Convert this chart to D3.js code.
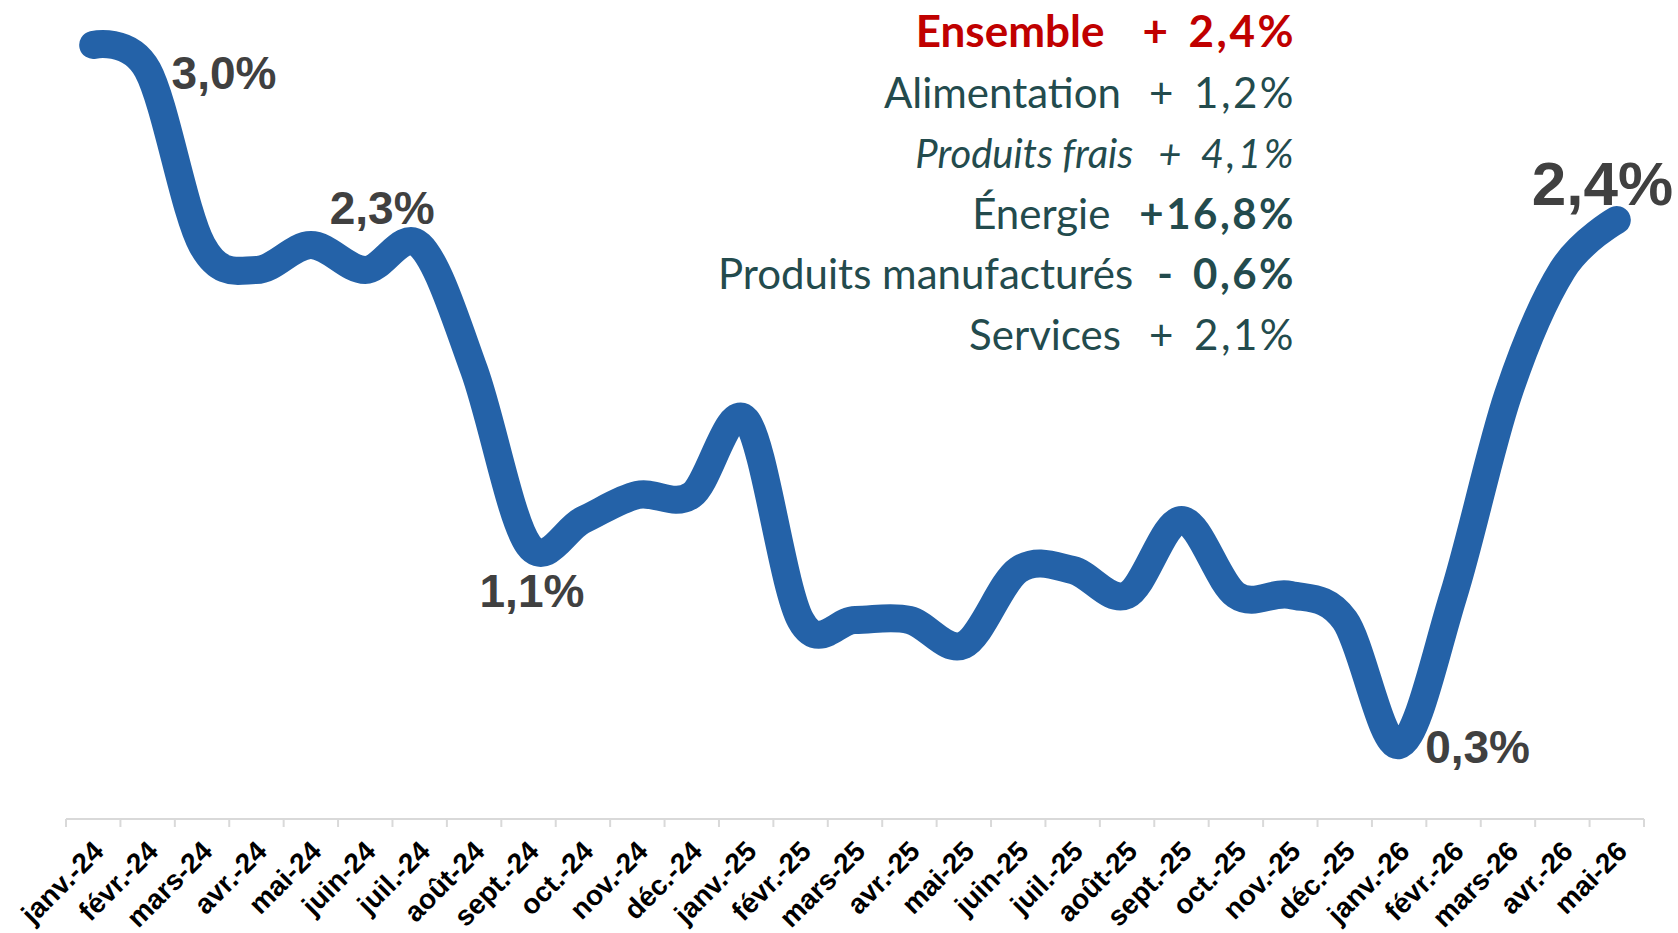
<!DOCTYPE html>
<html>
<head>
<meta charset="utf-8">
<script src="https://cdn.jsdelivr.net/npm/d3@7"></script>
<style>
  body { margin: 0; background: #fff; }
  svg { display: block; }
</style>
</head>
<body>
<div id="chart"></div>
<script>
// data
var months = ["janv.-24", "févr.-24", "mars-24", "avr.-24", "mai-24", "juin-24", "juil.-24",
  "août-24", "sept.-24", "oct.-24", "nov.-24", "déc.-24", "janv.-25", "févr.-25", "mars-25",
  "avr.-25", "mai-25", "juin-25", "juil.-25", "août-25", "sept.-25", "oct.-25", "nov.-25",
  "déc.-25", "janv.-26", "févr.-26", "mars-26", "avr.-26", "mai-26"];
var values = [3.1, 3.0, 2.3, 2.2, 2.3, 2.2, 2.3, 1.8, 1.1, 1.2, 1.3, 1.3, 1.6, 0.8, 0.8,
  0.8, 0.7, 1.0, 1.0, 0.9, 1.2, 0.9, 0.9, 0.8, 0.3, 0.9, 1.7, 2.2, 2.4];
var labelledMonths = ["févr.-24", "juil.-24", "sept.-24", "janv.-26", "mai-26"];

var legendLabels = ["Ensemble", "Alimentation", "Produits frais", "Énergie", "Produits manufacturés", "Services"];
var legendValues = ["+ 2,4%", "+ 1,2%", "+ 4,1%", "+16,8%", "- 0,6%", "+ 2,1%"];

var width = 1678, height = 933;
var margin = {top: 20, left: 66, right: 34, bottom: 113};

var lineColor = "#2462a8";
var textGrey = "#404040";
var legendColor = "#234b4d";

var svg = d3.select("#chart").append("svg")
  .attr("width", width)
  .attr("height", height);

var x = d3.scaleBand()
  .domain(months)
  .range([margin.left, width - margin.right])
  .padding(0);

var y = d3.scaleLinear()
  .domain([0, 3.2])
  .range([height - margin.bottom, margin.top]);

var data = months.map(function(m, i) { return {m: m, v: values[i]}; });
var cx = function(d) { return x(d.m) + x.bandwidth() / 2; };

// axis line + boundary ticks
var axisY = y(0) - 1;
var axisG = svg.append("g").attr("class", "x axis");
axisG.append("line")
  .attr("x1", x.range()[0]).attr("x2", x.range()[1])
  .attr("y1", axisY).attr("y2", axisY)
  .attr("stroke", "#d9d9d9").attr("stroke-width", 2);
var bounds = months.map(function(m) { return x(m); }).concat([x.range()[1]]);
axisG.selectAll(".tick-line")
  .data(bounds)
  .enter().append("line")
  .attr("class", "tick-line")
  .attr("x1", function(d) { return d; }).attr("x2", function(d) { return d; })
  .attr("y1", axisY).attr("y2", axisY + 8)
  .attr("stroke", "#d9d9d9").attr("stroke-width", 2);

axisG.selectAll(".tick-label")
  .data(months)
  .enter().append("text")
  .attr("class", "tick-label")
  .attr("transform", function(d) {
    return "translate(" + (x(d) + x.bandwidth() / 2 - 2) + "," + (axisY + 20) + ") rotate(-45)";
  })
  .attr("text-anchor", "end")
  .attr("dy", "0.71em")
  .style("font-family", "'Liberation Sans', Arial, sans-serif")
  .style("font-weight", "bold")
  .style("font-size", "28px")
  .attr("fill", "#000")
  .text(function(d) { return d; });

// the smoothed line
var line = d3.line()
  .x(cx)
  .y(function(d) { return y(d.v); })
  .curve(d3.curveCardinal.tension(0));

svg.append("path")
  .datum(data)
  .attr("d", line)
  .attr("fill", "none")
  .attr("stroke", lineColor)
  .attr("stroke-width", 28)
  .attr("stroke-linecap", "round")
  .attr("stroke-linejoin", "round");

// value labels, offsets from their point
var labelPos = {
  "févr.-24": {dx: 24, dy: 19, size: 46},
  "juil.-24": {dx: -90, dy: -21, size: 46},
  "sept.-24": {dx: -49, dy: 62, size: 46},
  "janv.-26": {dx: 26, dy: 18, size: 46},
  "mai-26": {dx: -85, dy: -15, size: 62}
};
var fmt = function(v) { return v.toFixed(1).replace(".", ",") + "%"; };

svg.selectAll(".val-label")
  .data(data.filter(function(d) { return labelledMonths.indexOf(d.m) >= 0; }))
  .enter().append("text")
  .attr("class", "val-label")
  .attr("x", function(d) { return cx(d) + labelPos[d.m].dx; })
  .attr("y", function(d) { return y(d.v) + labelPos[d.m].dy; })
  .style("font-family", "'Liberation Sans', Arial, sans-serif")
  .style("font-weight", "bold")
  .style("font-size", function(d) { return labelPos[d.m].size + "px"; })
  .attr("fill", textGrey)
  .text(function(d) { return fmt(d.v); });

// legend block, right aligned
var legendRight = 1296;
var legendTop = 47, legendStep = 60.5;
var legendStyle = [
  {color: "#c00000", labelWeight: "bold", valueWeight: "bold", italic: false, gap: 38, size: 44},
  {color: legendColor, labelWeight: "normal", valueWeight: "normal", italic: false, gap: 28, size: 42},
  {color: legendColor, labelWeight: "normal", valueWeight: "normal", italic: true, gap: 25, size: 40},
  {color: legendColor, labelWeight: "normal", valueWeight: "bold", italic: false, gap: 29, size: 42},
  {color: legendColor, labelWeight: "normal", valueWeight: "bold", italic: false, gap: 24, size: 42},
  {color: legendColor, labelWeight: "normal", valueWeight: "normal", italic: false, gap: 28, size: 42}
];

var legend = svg.append("g").attr("class", "legend")
  .style("font-family", "Lato, 'Open Sans', sans-serif");

legendLabels.forEach(function(lab, i) {
  var st = legendStyle[i];
  var yy = legendTop + i * legendStep;
  var val = legend.append("text")
    .attr("x", legendRight).attr("y", yy)
    .attr("text-anchor", "end")
    .attr("fill", st.color)
    .style("font-size", st.size + "px")
    .style("font-weight", st.valueWeight)
    .style("font-style", st.italic ? "italic" : "normal")
    .style("letter-spacing", "2.5px")
    .style("word-spacing", "5px")
    .text(legendValues[i]);
  var w = val.node().getComputedTextLength();
  legend.append("text")
    .attr("x", legendRight - w - st.gap).attr("y", yy)
    .attr("text-anchor", "end")
    .attr("fill", st.color)
    .style("font-size", st.size + "px")
    .style("font-weight", st.labelWeight)
    .style("font-style", st.italic ? "italic" : "normal")
    .text(lab);
});
</script>
</body>
</html>
